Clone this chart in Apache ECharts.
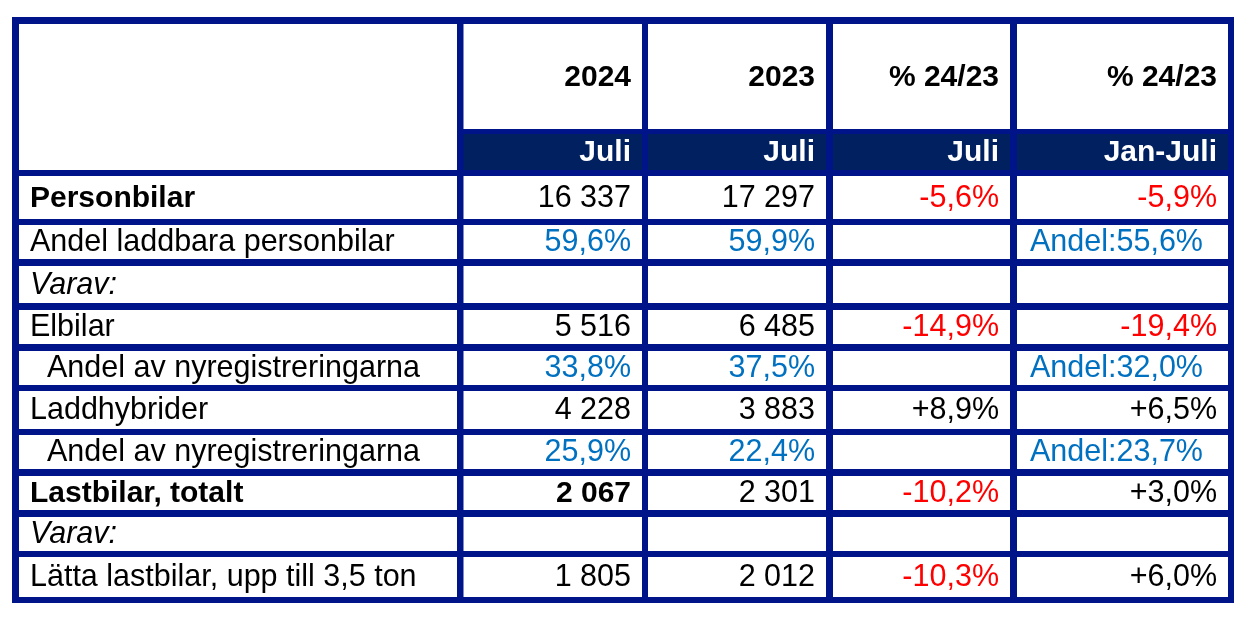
<!DOCTYPE html>
<html><head><meta charset="utf-8">
<script src="https://cdn.jsdelivr.net/npm/echarts@6/dist/echarts.min.js"></script>
<style>html,body{margin:0;padding:0;background:#fff}#c{width:1252px;height:620px}</style>
</head><body><div id="c"></div>
<script>
// ---- DATA ----
const yearHeaders = ['2024', '2023', '% 24/23', '% 24/23'];
const periodHeaders = ['Juli', 'Juli', 'Juli', 'Jan-Juli'];
const rowLabels = ['Personbilar', 'Andel laddbara personbilar', 'Varav:', 'Elbilar', 'Andel av nyregistreringarna', 'Laddhybrider', 'Andel av nyregistreringarna', 'Lastbilar, totalt', 'Varav:', 'Lätta lastbilar, upp till 3,5 ton'];
const values2024 = ['16 337', '59,6%', '', '5 516', '33,8%', '4 228', '25,9%', '2 067', '', '1 805'];
const values2023 = ['17 297', '59,9%', '', '6 485', '37,5%', '3 883', '22,4%', '2 301', '', '2 012'];
const changeJuli = ['-5,6%', '', '', '-14,9%', '', '+8,9%', '', '-10,2%', '', '-10,3%'];
const changeJanJuli = ['-5,9%', 'Andel:55,6%', '', '-19,4%', 'Andel:32,0%', '+6,5%', 'Andel:23,7%', '+3,0%', '', '+6,0%'];

// ---- LAYOUT / STYLE ----
const FONT_FAMILY = '"Liberation Sans", Arial, sans-serif';
const FS_REG = 30.5, FS_BOLD = 30;
const LINE = '#001489', SUB = '#002060', BLUE = '#0070C0', RED = '#FF0000';
const frame = [12, 17, 1234, 603];
const colL = [19, 463.5, 648, 833, 1017];
const colR = [457, 642, 826, 1010, 1228];
const headTop = 24, headBot = 129, subTop = 134, subBot = 170;
const rowT = [176, 225, 266, 310, 351, 391, 435, 476, 517, 557];
const rowB = [219, 259, 303, 344, 385, 429, 469, 510, 551, 597];
const boldLabelRows = [0, 7];
const italicRows = [2, 8];
const indentRows = [4, 6];
const shareRows = [1, 4, 6];
const boldValueCells = { '7-1': true };

const cells = [];
cells.push({ x0: colL[0], y0: headTop, x1: colR[0], y1: subBot, fill: '#fff' });
for (let c = 1; c <= 4; c++) {
  cells.push({ x0: colL[c], y0: headTop, x1: colR[c], y1: headBot, fill: '#fff', text: yearHeaders[c - 1], color: '#000', weight: 'bold', align: 'right' });
  cells.push({ x0: colL[c], y0: subTop, x1: colR[c], y1: subBot, fill: SUB, text: periodHeaders[c - 1], color: '#fff', weight: 'bold', align: 'right' });
}
const cols = [values2024, values2023, changeJuli, changeJanJuli];
rowLabels.forEach((lab, r) => {
  cells.push({ x0: colL[0], y0: rowT[r], x1: colR[0], y1: rowB[r], fill: '#fff', text: lab, color: '#000',
    weight: boldLabelRows.includes(r) ? 'bold' : 'normal', style: italicRows.includes(r) ? 'italic' : 'normal',
    align: 'left', pad: indentRows.includes(r) ? 28 : 11 });
  cols.forEach((arr, ci) => {
    const c = ci + 1, t = arr[r];
    let color = '#000', align = 'right', pad = 11;
    if (t.indexOf('Andel') === 0) { color = BLUE; align = 'left'; pad = 13; }
    else if (ci < 2 && shareRows.includes(r)) color = BLUE;
    else if (t.charAt(0) === '-') color = RED;
    cells.push({ x0: colL[c], y0: rowT[r], x1: colR[c], y1: rowB[r], fill: '#fff', text: t, color, align, pad,
      weight: boldValueCells[r + '-' + c] ? 'bold' : 'normal' });
  });
});

function box(api, x0, y0, x1, y1) {
  const p0 = api.coord([x0, y0]), p1 = api.coord([x1, y1]);
  return { x: p0[0], y: p0[1], width: p1[0] - p0[0], height: p1[1] - p0[1] };
}

const chart = echarts.init(document.getElementById('c'), null, { renderer: 'canvas' });
chart.setOption({
  animation: false,
  grid: { left: 0, right: 0, top: 0, bottom: 0 },
  xAxis: { type: 'value', min: 0, max: 1252, show: false },
  yAxis: { type: 'value', min: 0, max: 620, inverse: true, show: false },
  series: [
    {
      type: 'custom', coordinateSystem: 'cartesian2d', clip: false, silent: true,
      data: [[frame[0], frame[1]]],
      renderItem: (params, api) => ({ type: 'rect', shape: box(api, frame[0], frame[1], frame[2], frame[3]), style: { fill: LINE } })
    },
    {
      type: 'custom', coordinateSystem: 'cartesian2d', clip: false, silent: true,
      data: cells.map(c => [c.x0, c.y0]),
      renderItem: (params, api) => {
        const c = cells[params.dataIndex];
        const b = box(api, c.x0, c.y0, c.x1, c.y1);
        const children = [{ type: 'rect', shape: b, style: { fill: c.fill } }];
        if (c.text) {
          const pad = c.pad == null ? 11 : c.pad;
          const fs = c.weight === 'bold' ? FS_BOLD : FS_REG;
          children.push({
            type: 'text',
            style: {
              text: c.text,
              x: c.align === 'left' ? b.x + pad : b.x + b.width - pad,
              y: b.y + b.height / 2 + 1,
              align: c.align, verticalAlign: 'middle',
              fill: c.color,
              font: (c.style || 'normal') + ' ' + (c.weight || 'normal') + ' ' + fs + 'px ' + FONT_FAMILY
            }
          });
        }
        return { type: 'group', children };
      }
    }
  ]
});
</script></body></html>
